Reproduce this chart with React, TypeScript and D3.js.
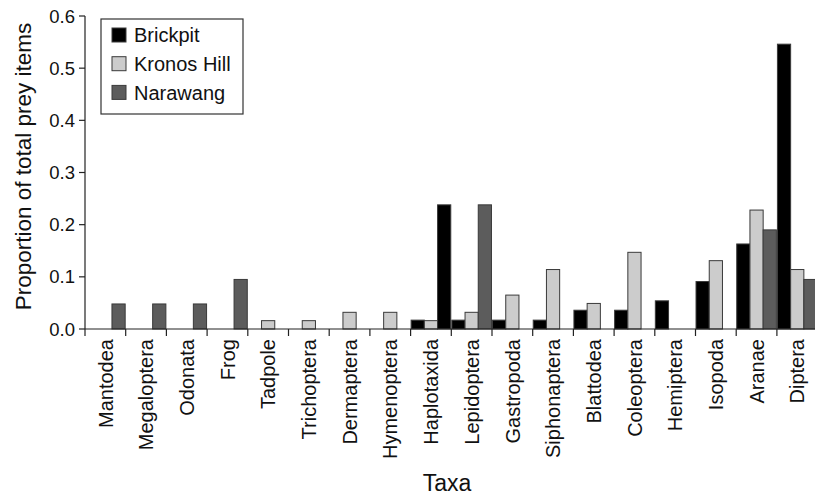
import React from 'react';
import * as d3 from 'd3';

const TAXA = [
  'Mantodea', 'Megaloptera', 'Odonata', 'Frog', 'Tadpole', 'Trichoptera',
  'Dermaptera', 'Hymenoptera', 'Haplotaxida', 'Lepidoptera', 'Gastropoda',
  'Siphonaptera', 'Blattodea', 'Coleoptera', 'Hemiptera', 'Isopoda', 'Aranae', 'Diptera',
];
const BRICKPIT = [0, 0, 0, 0, 0, 0, 0, 0, 0.017, 0.017, 0.017, 0.017, 0.036, 0.036, 0.054, 0.091, 0.163, 0.546];
const KRONOS = [0, 0, 0, 0, 0.016, 0.016, 0.032, 0.032, 0.016, 0.032, 0.065, 0.114, 0.049, 0.147, 0, 0.131, 0.228, 0.114];
const NARAWANG = [0.048, 0.048, 0.048, 0.095, 0, 0, 0, 0, 0.238, 0.238, 0, 0, 0, 0, 0, 0, 0.19, 0.095];
const SITES = ['Brickpit', 'Kronos Hill', 'Narawang'];
const Y_TICKS = [0, 0.1, 0.2, 0.3, 0.4, 0.5, 0.6];

const WIDTH = 815;
const HEIGHT = 498;
const MARGIN = { top: 16, left: 85, right: 817.6, bottom: 329 };
const COLORS = ['#000000', '#cccccc', '#5c5c5c'];
const FONT = '"Liberation Sans", Arial, Helvetica, sans-serif';

// the original figure fills Haplotaxida's Narawang bar black
const BLACK_NARAWANG = ['Haplotaxida'];

export default function App() {
  const x = d3.scaleBand().domain(TAXA).range([MARGIN.left, MARGIN.right]).paddingInner(0).paddingOuter(0);
  const x1 = d3.scaleBand().domain(SITES).range([0, x.bandwidth()]).paddingOuter(0.04);
  const y = d3.scaleLinear().domain([0, 0.6]).range([MARGIN.bottom, MARGIN.top]);
  const series = [BRICKPIT, KRONOS, NARAWANG];

  return (
    <svg width={WIDTH} height={HEIGHT} style={{ position: 'absolute', left: 0, top: 0, display: 'block' }} fontFamily={FONT}>
      <rect width={WIDTH} height={HEIGHT} fill="#fff" />
      {TAXA.map((t, i) => (
        <g key={t} transform={`translate(${x(t)},0)`}>
          {series.map((vals, s) => {
            const v = vals[i];
            if (!v) return null;
            const fill = s === 2 && BLACK_NARAWANG.includes(t) ? COLORS[0] : COLORS[s];
            return (
              <rect
                key={s}
                x={x1(SITES[s])}
                y={y(v)}
                width={x1.bandwidth()}
                height={y(0) - y(v)}
                fill={fill}
                stroke="#3a3a3a"
                strokeWidth={1}
              />
            );
          })}
        </g>
      ))}

      {/* y axis */}
      <line x1={MARGIN.left} x2={MARGIN.left} y1={y(0.6)} y2={MARGIN.bottom + 7} stroke="#222" strokeWidth={1.2} />
      {Y_TICKS.map((v) => (
        <g key={v}>
          <line x1={MARGIN.left - 6} x2={MARGIN.left} y1={y(v)} y2={y(v)} stroke="#222" strokeWidth={1.2} />
          <text x={MARGIN.left - 10} y={y(v)} dy="0.36em" textAnchor="end" fontSize={18.5} fill="#111">
            {v.toFixed(1)}
          </text>
        </g>
      ))}
      <text
        transform={`translate(31,${(y(0) + y(0.6)) / 2 - 6}) rotate(-90)`}
        textAnchor="middle"
        fontSize={22.5}
        fill="#111"
      >
        Proportion of total prey items
      </text>

      {/* x axis */}
      <line x1={MARGIN.left} x2={WIDTH} y1={y(0)} y2={y(0)} stroke="#222" strokeWidth={1.2} />
      {TAXA.map((t) => (
        <line key={`tk-${t}`} x1={(x(t) ?? 0) + x.bandwidth()} x2={(x(t) ?? 0) + x.bandwidth()} y1={y(0)} y2={y(0) + 7} stroke="#222" strokeWidth={1.2} />
      ))}
      {TAXA.map((t) => (
        <text
          key={`lb-${t}`}
          transform={`translate(${(x(t) ?? 0) + x.bandwidth() / 2},${y(0) + 10}) rotate(-90)`}
          dy="0.36em"
          textAnchor="end"
          fontSize={20}
          fill="#111"
        >
          {t}
        </text>
      ))}
      <text x={447} y={491} textAnchor="middle" fontSize={23} fill="#111">Taxa</text>

      {/* legend */}
      <g transform="translate(101,19)">
        <rect width={142} height={95} fill="#fff" stroke="#333" strokeWidth={1.2} />
        {SITES.map((s, i) => (
          <g key={s} transform={`translate(11,${9 + i * 28.7})`}>
            <rect width={14} height={14} fill={COLORS[i]} stroke="#3a3a3a" strokeWidth={1} />
            <text x={22} y={7} dy="0.36em" fontSize={20} fill="#111">{s}</text>
          </g>
        ))}
      </g>
    </svg>
  );
}
